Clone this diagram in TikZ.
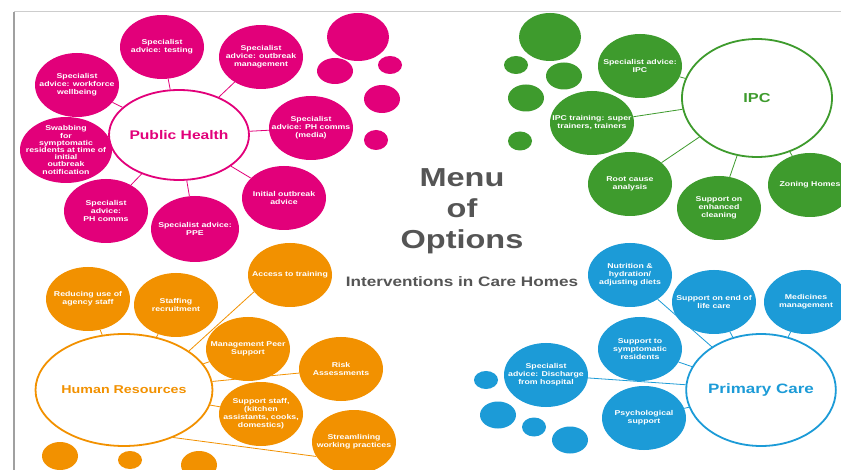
\documentclass[tikz,border=0pt]{standalone}
\usepackage{fontspec}
\setmainfont[FakeStretch=1.25]{Liberation Sans}
\usetikzlibrary{shapes.geometric,backgrounds}
\definecolor{pk}{RGB}{226,0,122}
\definecolor{gn}{RGB}{62,155,45}
\definecolor{og}{RGB}{242,145,0}
\definecolor{bl}{RGB}{28,155,215}
\definecolor{tg}{RGB}{85,85,85}
\tikzset{
  sat/.style={ellipse, inner sep=0pt, minimum width=84pt, minimum height=64pt},
  dot/.style={ellipse, inner sep=0pt},
  wt/.style={text=white, font=\fontsize{7}{8}\selectfont\bfseries, align=center, inner sep=0pt},
  hub/.style={ellipse, draw, line width=1.8pt, fill=white, inner sep=0pt},
  con/.style={line width=0.8pt},
}
\newcommand\bub[5][]{\node[sat,fill=#4,#1] (#2) at (#3) {}; \node[wt] (#2t) at (#2) {#5};}
\begin{document}
\begin{tikzpicture}[x=1pt,y=-1pt]
\useasboundingbox (0,0) rectangle (841,470);
\clip (0,0) rectangle (841,470);
% frame
\draw[line width=1pt, color={rgb,255:red,205;green,205;blue,205}] (14,12) -- (841,12);
\draw[line width=1.6pt, color={rgb,255:red,160;green,160;blue,160}] (14,12) -- (14,470);

% ---------- Public Health ----------
\node[hub, draw=pk, minimum width=116pt, minimum height=90pt, text=pk, font=\fontsize{12.5}{14}\selectfont\bfseries] (PH) at (179,135) {Public Health};
\bub{p1}{162,47}{pk}{Specialist\\advice: testing}
\bub{p2}{261,57}{pk}{Specialist\\advice: outbreak\\management}
\bub{p3}{77,85}{pk}{Specialist\\advice: workforce\\wellbeing}
\node[sat, fill=pk, minimum width=92pt, minimum height=66pt] (p4) at (66,150) {};
\node[wt, font=\fontsize{7}{7.2}\selectfont\bfseries] (p4t) at (p4) {Swabbing\\for\\symptomatic\\residents at time of\\initial\\outbreak\\notification};
\bub{p5}{311,128}{pk}{Specialist\\advice: PH comms\\(media)}
\bub{p6}{284,198}{pk}{Initial outbreak\\advice}
\bub{p7}{106,211}{pk}{Specialist\\advice:\\PH comms}
\bub[minimum width=88pt, minimum height=66pt]{p8}{195,229}{pk}{Specialist advice:\\PPE}
\node[dot, fill=pk, minimum width=62pt, minimum height=48pt] (pd1) at (358,37) {};
\node[dot, fill=pk, minimum width=36pt, minimum height=26pt] (pd2) at (335,71) {};
\node[dot, fill=pk, minimum width=24pt, minimum height=18pt] (pd3) at (390,65) {};
\node[dot, fill=pk, minimum width=36pt, minimum height=28pt] (pd4) at (382,99) {};
\node[dot, fill=pk, minimum width=24pt, minimum height=20pt] (pd5) at (376,140) {};

% ---------- IPC ----------
\node[hub, draw=gn, minimum width=150pt, minimum height=118pt, text=gn, font=\fontsize{13}{15}\selectfont\bfseries] (IPC) at (757,98) {IPC};
\bub{g1}{640,66}{gn}{Specialist advice:\\IPC}
\bub{g2}{592,123}{gn}{IPC training: super\\trainers, trainers}
\bub{g3}{630,184}{gn}{Root cause\\analysis}
\bub{g4}{719,208}{gn}{Support on\\enhanced\\cleaning}
\bub{g5}{810,185}{gn}{Zoning Homes}
\node[dot, fill=gn, minimum width=62pt, minimum height=48pt] (gd1) at (550,37) {};
\node[dot, fill=gn, minimum width=24pt, minimum height=18pt] (gd2) at (516,65) {};
\node[dot, fill=gn, minimum width=36pt, minimum height=27pt] (gd3) at (564,76) {};
\node[dot, fill=gn, minimum width=36pt, minimum height=27pt] (gd4) at (526,98) {};
\node[dot, fill=gn, minimum width=24pt, minimum height=19pt] (gd5) at (520,141) {};

% ---------- Human Resources ----------
\node[hub, draw=og, minimum width=148pt, minimum height=112pt, text=og, font=\fontsize{11.4}{13}\selectfont\bfseries] (HR) at (124,390) {Human Resources};
\bub{o1}{88,299}{og}{Reducing use of\\agency staff}
\bub{o2}{176,305}{og}{Staffing\\recruitment}
\bub{o3}{290,275}{og}{Access to training}
\bub{o4}{248,349}{og}{Management Peer\\Support}
\bub{o5}{341,369}{og}{Risk\\Assessments}
\bub{o6}{261,414}{og}{Support staff,\\(kitchen\\assistants, cooks,\\domestics)}
\bub{o7}{354,442}{og}{Streamlining\\working practices}
\node[dot, fill=og, minimum width=36pt, minimum height=28pt] (od1) at (60,456) {};
\node[dot, fill=og, minimum width=24pt, minimum height=18pt] (od2) at (130,460) {};
\node[dot, fill=og, minimum width=36pt, minimum height=28pt] (od3) at (199,465) {};

% ---------- Primary Care ----------
\node[hub, draw=bl, minimum width=148pt, minimum height=112pt, text=bl, font=\fontsize{13.6}{15}\selectfont\bfseries] (PC) at (761,390) {Primary Care};
\bub{b1}{630,275}{bl}{Nutrition \&\\hydration/\\adjusting diets}
\bub{b2}{714,302}{bl}{Support on end of\\life care}
\bub{b3}{806,302}{bl}{Medicines\\management}
\bub{b4}{640,349}{bl}{Support to\\symptomatic\\residents}
\bub{b5}{546,375}{bl}{Specialist\\advice: Discharge\\from hospital}
\bub{b6}{644,418}{bl}{Psychological\\support}
\node[dot, fill=bl, minimum width=24pt, minimum height=18pt] (bd1) at (486,380) {};
\node[dot, fill=bl, minimum width=36pt, minimum height=27pt] (bd2) at (498,415) {};
\node[dot, fill=bl, minimum width=24pt, minimum height=19pt] (bd3) at (534,427) {};
\node[dot, fill=bl, minimum width=36pt, minimum height=27pt] (bd4) at (570,440) {};

% ---------- Title ----------
\node[text=tg, align=center, font=\fontsize{26}{31}\selectfont\bfseries, inner sep=0pt] (title) at (462,211) {Menu\\of\\Options};
\node[text=tg, font=\fontsize{13.7}{16}\selectfont\bfseries, inner sep=0pt] (sub) at (462,282) {Interventions in Care Homes};

% ---------- connectors ----------
\begin{pgfonlayer}{background}
\fill[white] (0,0) rectangle (841,470);
\foreach \n in {p1,p2,p3,p4,p5,p6,p7,p8} \draw[con,pk] (PH) -- (\n);
\foreach \n in {g1,g2,g3,g4,g5} \draw[con,gn] (IPC) -- (\n);
\foreach \n in {o1,o2,o4,o5,o6} \draw[con,og] (HR) -- (\n);
\draw[con,og] (HR.31) -- (o3.205);
\draw[con,og] (HR.-44) -- (o7.201);
\foreach \n in {b1,b2,b3,b4,b5,b6} \draw[con,bl] (PC) -- (\n);
\end{pgfonlayer}
\end{tikzpicture}
\end{document}
